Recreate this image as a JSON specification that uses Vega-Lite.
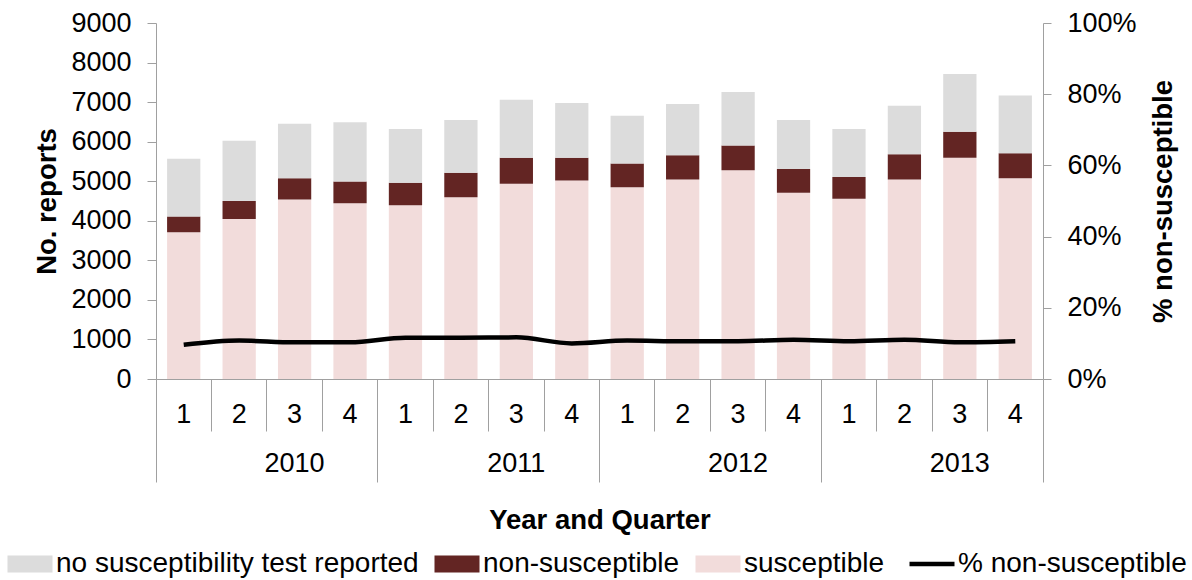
{
  "$schema": "https://vega.github.io/schema/vega-lite/v6.json",
  "width": 887,
  "height": 356,
  "autosize": {"type": "none"},
  "padding": {"left": 156, "top": 23, "right": 149, "bottom": 201},
  "background": "white",
  "config": {
    "font": "Liberation Sans",
    "view": {"stroke": null},
    "axis": {
      "grid": false,
      "domainColor": "#a0a0a0",
      "tickColor": "#a0a0a0",
      "labelColor": "#000000",
      "labelFont": "Liberation Sans",
      "labelFontSize": 27,
      "titleFont": "Liberation Sans",
      "titleFontSize": 27.5,
      "titleFontWeight": "bold",
      "titleColor": "#000000",
      "labelAngle": 0,
      "labelOverlap": false,
      "labelBound": false,
      "labelFlush": false
    }
  },
  "datasets": {
    "reports": [
      {"period": "2010 Q1", "category": "susceptible", "reports": 3710},
      {"period": "2010 Q1", "category": "non-susceptible", "reports": 395},
      {"period": "2010 Q1", "category": "no susceptibility test reported", "reports": 1460},
      {"period": "2010 Q2", "category": "susceptible", "reports": 4045},
      {"period": "2010 Q2", "category": "non-susceptible", "reports": 455},
      {"period": "2010 Q2", "category": "no susceptibility test reported", "reports": 1525},
      {"period": "2010 Q3", "category": "susceptible", "reports": 4535},
      {"period": "2010 Q3", "category": "non-susceptible", "reports": 540},
      {"period": "2010 Q3", "category": "no susceptibility test reported", "reports": 1375},
      {"period": "2010 Q4", "category": "susceptible", "reports": 4440},
      {"period": "2010 Q4", "category": "non-susceptible", "reports": 550},
      {"period": "2010 Q4", "category": "no susceptibility test reported", "reports": 1500},
      {"period": "2011 Q1", "category": "susceptible", "reports": 4390},
      {"period": "2011 Q1", "category": "non-susceptible", "reports": 570},
      {"period": "2011 Q1", "category": "no susceptibility test reported", "reports": 1360},
      {"period": "2011 Q2", "category": "susceptible", "reports": 4595},
      {"period": "2011 Q2", "category": "non-susceptible", "reports": 620},
      {"period": "2011 Q2", "category": "no susceptibility test reported", "reports": 1330},
      {"period": "2011 Q3", "category": "susceptible", "reports": 4935},
      {"period": "2011 Q3", "category": "non-susceptible", "reports": 660},
      {"period": "2011 Q3", "category": "no susceptibility test reported", "reports": 1465},
      {"period": "2011 Q4", "category": "susceptible", "reports": 5020},
      {"period": "2011 Q4", "category": "non-susceptible", "reports": 575},
      {"period": "2011 Q4", "category": "no susceptibility test reported", "reports": 1380},
      {"period": "2012 Q1", "category": "susceptible", "reports": 4845},
      {"period": "2012 Q1", "category": "non-susceptible", "reports": 600},
      {"period": "2012 Q1", "category": "no susceptibility test reported", "reports": 1210},
      {"period": "2012 Q2", "category": "susceptible", "reports": 5045},
      {"period": "2012 Q2", "category": "non-susceptible", "reports": 610},
      {"period": "2012 Q2", "category": "no susceptibility test reported", "reports": 1295},
      {"period": "2012 Q3", "category": "susceptible", "reports": 5275},
      {"period": "2012 Q3", "category": "non-susceptible", "reports": 630},
      {"period": "2012 Q3", "category": "no susceptibility test reported", "reports": 1350},
      {"period": "2012 Q4", "category": "susceptible", "reports": 4710},
      {"period": "2012 Q4", "category": "non-susceptible", "reports": 600},
      {"period": "2012 Q4", "category": "no susceptibility test reported", "reports": 1240},
      {"period": "2013 Q1", "category": "susceptible", "reports": 4560},
      {"period": "2013 Q1", "category": "non-susceptible", "reports": 545},
      {"period": "2013 Q1", "category": "no susceptibility test reported", "reports": 1215},
      {"period": "2013 Q2", "category": "susceptible", "reports": 5045},
      {"period": "2013 Q2", "category": "non-susceptible", "reports": 635},
      {"period": "2013 Q2", "category": "no susceptibility test reported", "reports": 1230},
      {"period": "2013 Q3", "category": "susceptible", "reports": 5595},
      {"period": "2013 Q3", "category": "non-susceptible", "reports": 655},
      {"period": "2013 Q3", "category": "no susceptibility test reported", "reports": 1460},
      {"period": "2013 Q4", "category": "susceptible", "reports": 5075},
      {"period": "2013 Q4", "category": "non-susceptible", "reports": 630},
      {"period": "2013 Q4", "category": "no susceptibility test reported", "reports": 1465}
    ],
    "pct": [
      {"period": "2010 Q1", "pct_non_susceptible": 0.096},
      {"period": "2010 Q2", "pct_non_susceptible": 0.108},
      {"period": "2010 Q3", "pct_non_susceptible": 0.103},
      {"period": "2010 Q4", "pct_non_susceptible": 0.103},
      {"period": "2011 Q1", "pct_non_susceptible": 0.116},
      {"period": "2011 Q2", "pct_non_susceptible": 0.116},
      {"period": "2011 Q3", "pct_non_susceptible": 0.117},
      {"period": "2011 Q4", "pct_non_susceptible": 0.100},
      {"period": "2012 Q1", "pct_non_susceptible": 0.108},
      {"period": "2012 Q2", "pct_non_susceptible": 0.106},
      {"period": "2012 Q3", "pct_non_susceptible": 0.106},
      {"period": "2012 Q4", "pct_non_susceptible": 0.110},
      {"period": "2013 Q1", "pct_non_susceptible": 0.106},
      {"period": "2013 Q2", "pct_non_susceptible": 0.110},
      {"period": "2013 Q3", "pct_non_susceptible": 0.103},
      {"period": "2013 Q4", "pct_non_susceptible": 0.106}
    ]
  },
  "resolve": {"scale": {"y": "independent"}, "axis": {"x": "independent"}},
  "layer": [
    {
      "data": {"name": "reports"},
      "mark": {"type": "bar", "width": {"band": 0.6}},
      "encoding": {
        "x": {
          "field": "period",
          "type": "ordinal",
          "scale": {"paddingInner": 0, "paddingOuter": 0},
          "axis": {
            "orient": "bottom",
            "title": null,
            "ticks": false,
            "tickSize": 0,
            "labelPadding": 22,
            "labelExpr": "substring(datum.value, 6, 7)",
            "domain": true
          }
        },
        "y": {
          "field": "reports",
          "type": "quantitative",
          "stack": "zero",
          "scale": {"domain": [0, 9000]},
          "axis": {
            "orient": "left",
            "values": [0, 1000, 2000, 3000, 4000, 5000, 6000, 7000, 8000, 9000],
            "format": "d",
            "tickSize": 9,
            "labelPadding": 16,
            "title": "No. reports",
            "titlePadding": 9
          }
        },
        "color": {
          "field": "category",
          "type": "nominal",
          "scale": {
            "domain": ["no susceptibility test reported", "non-susceptible", "susceptible", "% non-susceptible"],
            "range": ["#dcdcdc", "#632523", "#f2dcdb", "#000000"]
          },
          "legend": {
            "orient": "none",
            "legendX": -140,
            "legendY": 527,
            "direction": "horizontal",
            "title": null,
            "symbolSize": 2025,
            "labelFont": "Liberation Sans",
            "labelFontSize": 28,
            "labelColor": "#000000",
            "labelOffset": 12,
            "labelLimit": 0,
            "columnPadding": 15,
            "symbolStrokeWidth": 0,
            "encode": {
              "symbols": {
                "update": {
                  "shape": {"signal": "datum.value === '% non-susceptible' ? 'M-1,0H1' : 'M-1,-0.38H1V0.38H-1Z'"},
                  "stroke": {"value": "#000000"},
                  "strokeWidth": {"signal": "datum.value === '% non-susceptible' ? 4.5 : 0"}
                }
              }
            }
          }
        },
        "order": {"field": "category", "sort": "descending"}
      }
    },
    {
      "data": {"name": "pct"},
      "mark": {"type": "line", "interpolate": "monotone", "strokeWidth": 4.5},
      "encoding": {
        "x": {"field": "period", "type": "ordinal", "axis": null},
        "y": {
          "field": "pct_non_susceptible",
          "type": "quantitative",
          "scale": {"domain": [0, 1]},
          "axis": {
            "orient": "right",
            "values": [0, 0.2, 0.4, 0.6, 0.8, 1],
            "format": ".0%",
            "tickSize": 8,
            "labelPadding": 16,
            "title": "% non-susceptible",
            "titleAngle": 270,
            "titleBaseline": "top",
            "titlePadding": 13
          }
        },
        "color": {"datum": "% non-susceptible"}
      }
    },
    {
      "data": {"name": "pct"},
      "mark": {"type": "point", "opacity": 0},
      "encoding": {
        "x": {
          "field": "period",
          "type": "ordinal",
          "axis": {
            "orient": "bottom",
            "title": null,
            "bandPosition": 0,
            "tickSize": 52,
            "labels": false,
            "domain": false
          }
        }
      }
    },
    {
      "data": {"name": "pct"},
      "mark": {"type": "point", "opacity": 0},
      "encoding": {
        "x": {
          "field": "period",
          "type": "ordinal",
          "axis": {
            "orient": "bottom",
            "values": ["2010 Q1", "2011 Q1", "2012 Q1", "2013 Q1"],
            "bandPosition": 0,
            "tickSize": 103,
            "labels": false,
            "domain": false,
            "title": "Year and Quarter",
            "titlePadding": 24
          }
        }
      }
    },
    {
      "data": {"name": "pct"},
      "mark": {"type": "point", "opacity": 0},
      "encoding": {
        "x": {
          "field": "period",
          "type": "ordinal",
          "axis": {
            "orient": "bottom",
            "values": ["2013 Q4"],
            "bandPosition": 1,
            "tickSize": 103,
            "labels": false,
            "domain": false,
            "title": null
          }
        }
      }
    },
    {
      "data": {"name": "pct"},
      "mark": {"type": "point", "opacity": 0},
      "encoding": {
        "x": {
          "field": "period",
          "type": "ordinal",
          "axis": {
            "orient": "bottom",
            "values": ["2010 Q3", "2011 Q3", "2012 Q3", "2013 Q3"],
            "bandPosition": 0,
            "ticks": false,
            "tickSize": 0,
            "labelPadding": 71,
            "labelExpr": "substring(datum.value, 0, 4)",
            "domain": false,
            "title": null
          }
        }
      }
    }
  ]
}
